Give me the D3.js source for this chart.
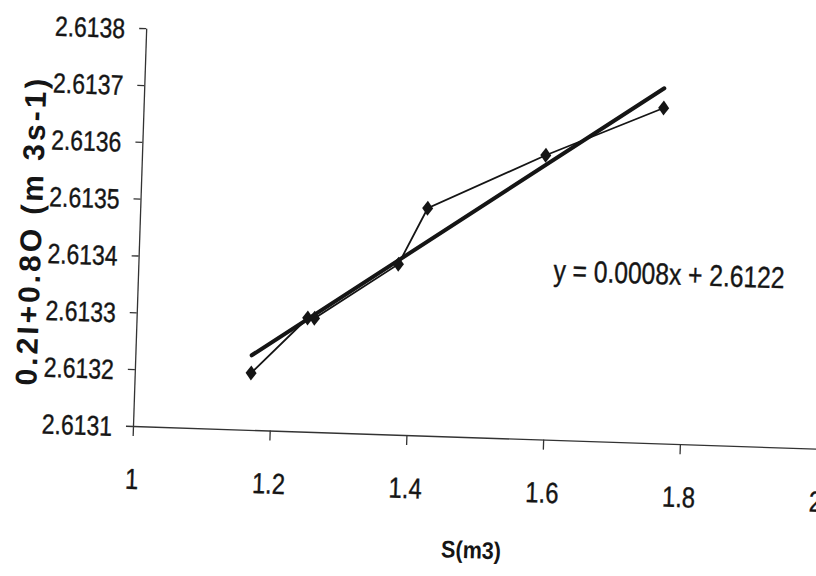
<!DOCTYPE html>
<html>
<head>
<meta charset="utf-8">
<script src="https://cdn.jsdelivr.net/npm/d3@7"></script>
<style>
  html, body { margin: 0; padding: 0; background: #fff; }
  svg { display: block; }
</style>
</head>
<body>
<svg id="chart" width="816" height="576"></svg>
<script>
// ---- data ----
const sValues = [1.17, 1.25, 1.26, 1.38, 1.42, 1.59, 1.76];           // S (m3)
const flowValues = [2.61320, 2.61330, 2.61330, 2.61340, 2.61350, 2.61360, 2.61369]; // 0.2I+0.8O
const xTicks = [1, 1.2, 1.4, 1.6, 1.8, 2];
const yTicks = [2.6131, 2.6132, 2.6133, 2.6134, 2.6135, 2.6136, 2.6137, 2.6138];
const equationLabel = "y = 0.0008x + 2.6122";
const xTitle = "S(m3)";
const yTitle = "0.2I+0.8O (m 3s-1)";

// ---- layout ----
const W = 816, H = 576;
const origin = { x: 133, y: 426 };
const tilt = 1.9; // scan is slightly rotated
const NARROW = 0.82; // horizontal squeeze to mimic a narrow face

const x = d3.scaleLinear().domain([1, 2]).range([origin.x, origin.x + 684]);
const y = d3.scaleLinear().domain([2.6131, 2.6138]).range([origin.y, origin.y - 398]);

const svg = d3.select("#chart");
svg.append("rect").attr("width", W).attr("height", H).attr("fill", "#fff");

const g = svg.append("g")
  .attr("transform", `rotate(${tilt},${origin.x},${origin.y})`);

const sans = "'Liberation Sans',Arial,Helvetica,sans-serif";
const ink = "#151515";

// x axis
const xAxis = g.append("g")
  .attr("transform", `translate(0,${origin.y})`)
  .call(d3.axisBottom(x).tickValues(xTicks).tickSize(10).tickSizeOuter(0)
        .tickFormat(d => d3.format("~g")(d)));
xAxis.select(".domain").attr("stroke", "#333").attr("stroke-width", 1.3);
xAxis.selectAll(".tick line").attr("stroke", "#333").attr("stroke-width", 1.3);
xAxis.selectAll(".tick text")
  .attr("y", 63).attr("dy", 0).attr("x", 0)
  .attr("transform", `scale(${NARROW},1)`)
  .attr("fill", ink).attr("stroke", ink).attr("stroke-width", 0.4)
  .style("font-family", sans).style("font-size", "29px");

// y axis
const yAxis = g.append("g")
  .attr("transform", `translate(${origin.x},0)`)
  .call(d3.axisLeft(y).tickValues(yTicks).tickSize(7).tickSizeOuter(0)
        .tickFormat(d3.format(".4f")));
yAxis.select(".domain").attr("stroke", "#333").attr("stroke-width", 1.3);
yAxis.selectAll(".tick line").attr("stroke", "#333").attr("stroke-width", 1.3);
yAxis.selectAll(".tick text")
  .attr("x", -21 / NARROW).attr("dy", "0.36em")
  .attr("transform", `scale(${NARROW},1)`)
  .attr("fill", ink).attr("stroke", ink).attr("stroke-width", 0.4)
  .style("font-family", sans).style("font-size", "28px");

// data
const pts = sValues.map((s, i) => [s, flowValues[i]]);

// least-squares trend line (as the spreadsheet does)
const mx = d3.mean(sValues), my = d3.mean(flowValues);
const sxy = d3.sum(pts, p => (p[0] - mx) * (p[1] - my));
const sxx = d3.sum(sValues, v => (v - mx) * (v - mx));
const slope = sxy / sxx, intercept = my - slope * mx;
const trend = d3.extent(sValues).map(v => [v, intercept + slope * v]);

const line = d3.line().x(d => x(d[0])).y(d => y(d[1]));

g.append("path").datum(pts)
  .attr("d", line).attr("fill", "none")
  .attr("stroke", ink).attr("stroke-width", 1.8);

g.append("path").datum(trend)
  .attr("d", line).attr("fill", "none")
  .attr("stroke", ink).attr("stroke-width", 4).attr("stroke-linecap", "round");

const diamond = "M0,-7.5L5.5,0L0,7.5L-5.5,0Z";
g.selectAll(".marker").data(pts).join("path")
  .attr("class", "marker")
  .attr("d", diamond)
  .attr("transform", d => `translate(${x(d[0])},${y(d[1])})`)
  .attr("fill", ink);

// equation
g.append("text")
  .attr("transform", `translate(${x(1.607)},${y(2.61338)}) scale(${NARROW},1)`)
  .attr("fill", ink).attr("stroke", ink).attr("stroke-width", 0.4)
  .style("font-family", sans).style("font-size", "30px")
  .text(equationLabel);

// axis titles
g.append("text")
  .attr("transform", `translate(${x(1.5)},${origin.y + 121}) scale(0.9,1)`)
  .attr("text-anchor", "middle")
  .attr("fill", ink)
  .style("font-family", sans).style("font-weight", "bold").style("font-size", "24px")
  .text(xTitle);

g.append("text")
  .attr("transform", `translate(35,${origin.y - 192}) rotate(-90)`)
  .attr("text-anchor", "middle")
  .attr("fill", ink)
  .style("font-family", sans).style("font-weight", "bold").style("font-size", "30px")
  .style("letter-spacing", "3px")
  .text(yTitle);
</script>
</body>
</html>
